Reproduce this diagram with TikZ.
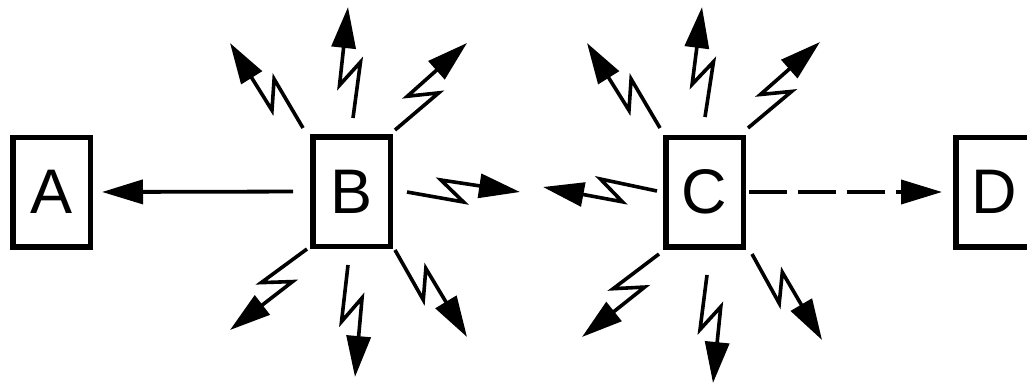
\documentclass[tikz,border=0pt]{standalone}
\usepackage{fontspec}
\setmainfont{Liberation Sans}
\usetikzlibrary{arrows.meta,calc}
\tikzset{
  box/.style={draw, line width=5.5pt, minimum width=77.5pt, minimum height=109.5pt,
    inner sep=0pt, font=\fontsize{63}{70}\selectfont},
  tipstyle/.style={-{Triangle[length=41pt,width=24pt]}},
  bolt/.style={line width=3.6pt, tipstyle, line join=miter},
  link/.style={line width=3.8pt, tipstyle},
}
\newcommand{\boltpath}[2]{%
  \draw[bolt] (#1) -- ($(#1)!0.5!(#2)!10pt!-90:(#2)$) -- ($(#1)!0.3!(#2)!12pt!90:(#2)$) -- (#2);}
\begin{document}
\begin{tikzpicture}[x=1pt,y=-1pt]
\useasboundingbox (0,0) rectangle (1027,386);
\node[box] (A) at (51.5,192) {A};
\node[box] (B) at (351.5,191.5) {B};
\node[box] (C) at (704.5,192) {C};
\node[box] (D) at (994.5,192) {D};
\draw[link, shorten <=17pt, shorten >=9pt] (B.west) -- (A.east);
\draw[link, dash pattern=on 38pt off 11pt, shorten <=3pt, shorten >=11pt] (C.east) -- (D.west);
% bolts of B
\coordinate (b1s) at (303,128); \coordinate (b1t) at (230,43);
\coordinate (b2s) at (353,118); \coordinate (b2t) at (348,7);
\coordinate (b3s) at (395,130); \coordinate (b3t) at (467,43);
\coordinate (b4s) at (407,192); \coordinate (b4t) at (520,192);
\coordinate (b5s) at (307,249); \coordinate (b5t) at (230,330);
\coordinate (b6s) at (348,265); \coordinate (b6t) at (355,377);
\coordinate (b7s) at (395,250); \coordinate (b7t) at (467,337);
% bolts of C
\coordinate (c1s) at (660,128); \coordinate (c1t) at (587,43);
\coordinate (c2s) at (705,117); \coordinate (c2t) at (702,7);
\coordinate (c3s) at (748,128); \coordinate (c3t) at (820,42);
\coordinate (c4s) at (657,191); \coordinate (c4t) at (543,187);
\coordinate (c5s) at (659,254); \coordinate (c5t) at (582,337);
\coordinate (c6s) at (707,275); \coordinate (c6t) at (713,383);
\coordinate (c7s) at (752,254); \coordinate (c7t) at (822,340);
\foreach \p in {b1,b2,b3,b4,b5,b6,b7,c1,c2,c3,c4,c5,c6,c7}{\boltpath{\p s}{\p t}}
\end{tikzpicture}
\end{document}
